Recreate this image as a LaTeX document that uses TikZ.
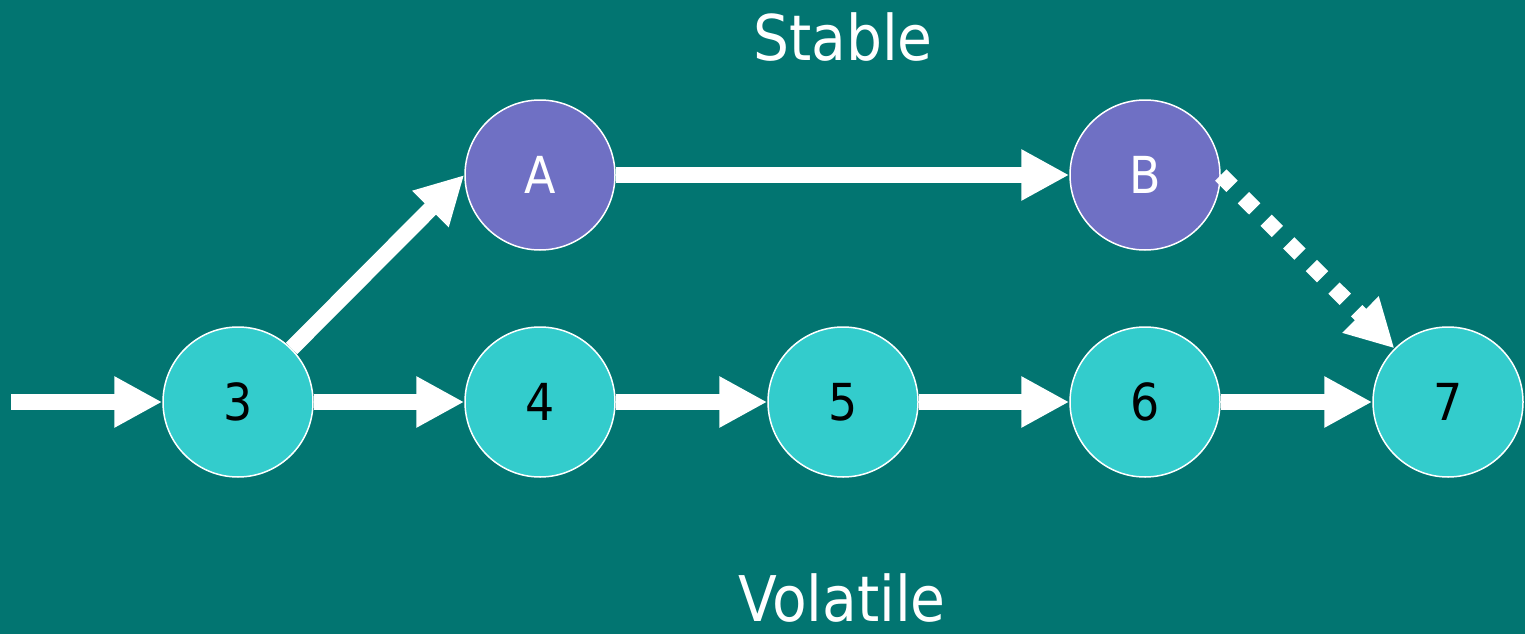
\documentclass[tikz,border=0pt]{standalone}
\usepackage{fontspec}
\setmainfont{DejaVu Sans Condensed}
\usetikzlibrary{arrows.meta}
\definecolor{bgteal}{HTML}{027571}
\definecolor{nodecyan}{HTML}{33CCCC}
\definecolor{nodepurple}{HTML}{6F70C4}
\begin{document}
\begin{tikzpicture}[x=1pt,y=-1pt,
  vol/.style={circle,draw=white,line width=1.5pt,fill=nodecyan,minimum size=150pt,inner sep=0pt,font=\fontsize{51}{51}\selectfont,text=black},
  stab/.style={circle,draw=white,line width=1.5pt,fill=nodepurple,minimum size=150pt,inner sep=0pt,font=\fontsize{51}{51}\selectfont,text=white},
  conn/.style={draw=white,line width=16pt,-{Triangle[length=48pt,width=48pt]}},
  dotconn/.style={conn,dash pattern=on 16pt off 16pt},
  lab/.style={text=white,font=\fontsize{63}{63}\selectfont,anchor=base}]
\fill[bgteal] (0,0) rectangle (1525,634);
\useasboundingbox (0,0) rectangle (1525,634);
\node[vol] (n3) at (238,402) {3};
\node[vol] (n4) at (540,402) {4};
\node[vol] (n5) at (843,402) {5};
\node[vol] (n6) at (1145,402) {6};
\node[vol] (n7) at (1448,402) {7};
\node[stab] (nA) at (540,175) {A};
\node[stab] (nB) at (1145,175) {B};
\coordinate (start) at (11,402);
\node[lab] (stable) at (843,60) {Stable};
\node[lab] (volatile) at (842,621) {Volatile};
\draw[conn] (start) -- (n3);
\draw[conn] (n3) -- (n4);
\draw[conn] (n4) -- (n5);
\draw[conn] (n5) -- (n6);
\draw[conn] (n6) -- (n7);
\draw[conn] (n3.45) -- (nA.west);
\draw[conn] (nA) -- (nB);
\draw[dotconn] (nB.east) -- (n7.135);
\end{tikzpicture}
\end{document}
